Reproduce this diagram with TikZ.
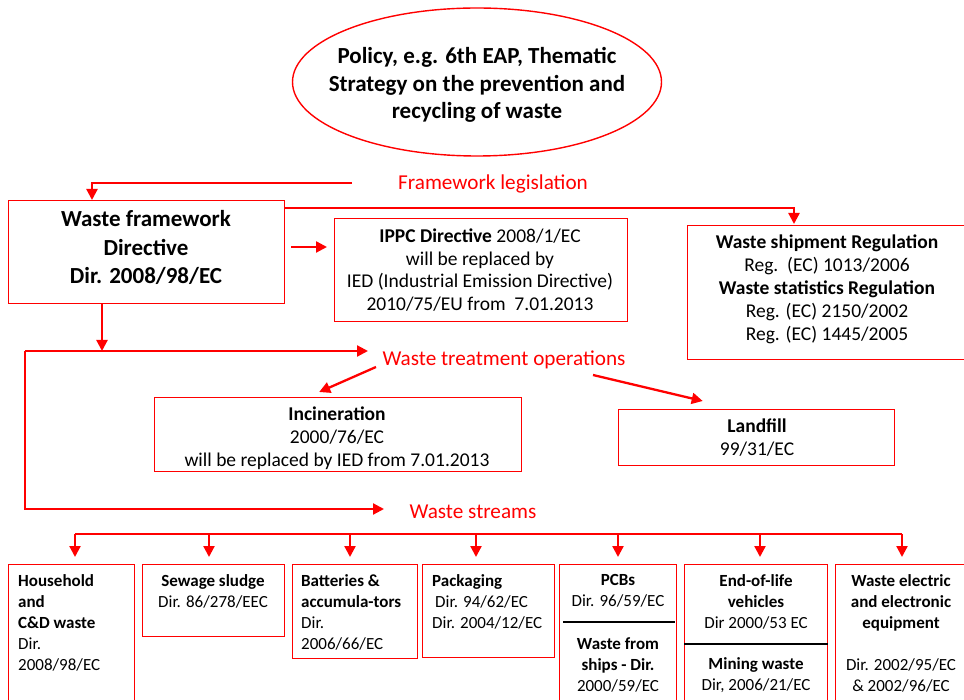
\documentclass[tikz,border=0pt]{standalone}
\usepackage{fontspec}
\setmainfont{Carlito}
\usetikzlibrary{arrows.meta,shapes.geometric,calc}

\tikzset{
  frame/.style={draw=red, line width=1.4pt, inner sep=0pt},
  link/.style={draw=red, line width=2.3pt, -{Triangle[length=11pt,width=11pt]}},
  bus/.style={draw=red, line width=2.3pt},
  txt/.style={inner sep=0pt, anchor=north, align=center, font=\fontsize{17}{21}\selectfont},
  bigtxt/.style={txt, font=\fontsize{19.5}{23}\selectfont},
  ltxt/.style={txt, anchor=north west, align=left},
  tag/.style={inner sep=0pt, text=red, font=\fontsize{21.2}{25}\selectfont},
  rule/.style={draw=black, line width=1.5pt},
}

\begin{document}
\begin{tikzpicture}[x=1pt,y=-1pt]
\useasboundingbox (0,0) rectangle (964,700);

% policy ellipse
\node[frame, ellipse, minimum width=369pt, minimum height=148pt] (policy) at (477,82) {};
\node[inner sep=0pt, align=center, font=\bfseries\fontsize{23}{27.5}\selectfont] (policytext) at (477,85)
  {Policy, e.g. 6th EAP, Thematic\\Strategy on the prevention and\\recycling of waste};

% framework legislation level
\node[tag] (fwl) at (493,184) {Framework legislation};
\coordinate (fwstart) at (352,183);

\node[frame, anchor=north west, minimum width=276pt, minimum height=103pt] (wfd) at (8,200) {};
\node[txt, font=\bfseries\fontsize{23}{28.8}\selectfont] (wfdtext) at (146,210)
  {Waste framework\\Directive\\Dir. 2008/98/EC};

\node[frame, anchor=north west, minimum width=293pt, minimum height=103pt] (ippc) at (334,218) {};
\node[bigtxt, font=\fontsize{19.5}{22.7}\selectfont] (ippctext) at (480,228.5)
  {\textbf{IPPC Directive} 2008/1/EC\\will be replaced by\\IED (Industrial Emission Directive)\\2010/75/EU from\ \ 7.01.2013};

\node[frame, anchor=north west, minimum width=290pt, minimum height=134pt] (ship) at (687,225) {};
\node[bigtxt] (shiptext) at (827,234.5)
  {\textbf{Waste shipment Regulation}\\Reg.\ \ (EC) 1013/2006\\\textbf{Waste statistics Regulation}\\Reg. (EC) 2150/2002\\Reg. (EC) 1445/2005};

\draw[link] (fwstart) -| ($(wfd.north west)+(84,0)$);
\draw[link] ($(wfd.north east)+(0,8)$) -| ($(ship.north west)+(107,-1)$);
\draw[link] ($(wfd.north east)+(6,47)$) -- ($(ippc.north west)+(-7,29)$);

% waste treatment operations level
\coordinate (fork) at (25,351);
\coordinate (optip) at (368,351);
\coordinate (sttip) at (384,509);
\coordinate (wfddrop) at ($(wfd.south west)+(94,0)$);
\draw[link] (wfddrop) -- (wfddrop |- fork);
\draw[link] (fork) -- (optip);
\draw[link] (fork) |- (sttip);

\node[tag] (ops) at (504,360) {Waste treatment operations};

\node[frame, anchor=north west, minimum width=367pt, minimum height=74pt] (incin) at (154,397) {};
\node[bigtxt] (incintext) at (337,406.5)
  {\textbf{Incineration}\\2000/76/EC\\will be replaced by IED from 7.01.2013};

\node[frame, anchor=north west, minimum width=276pt, minimum height=56pt] (landfill) at (618,409) {};
\node[bigtxt] (landtext) at (757,418.5)
  {\textbf{Landfill}\\99/31/EC};

\coordinate (opsL) at (376,367);
\coordinate (opsR) at (593,375);
\draw[link] (opsL) -- ($(incin.north)+(-19,-5)$);
\draw[link] (opsR) -- ($(landfill.north)+(-54,-8)$);

% waste streams level
\node[tag] (streams) at (473,512) {Waste streams};

\node[frame, anchor=north west, minimum width=126pt, minimum height=150pt] (hh) at (8,564) {};
\node[frame, anchor=north west, minimum width=142pt, minimum height=72pt] (sew) at (142,564) {};
\node[frame, anchor=north west, minimum width=125pt, minimum height=94pt] (bat) at (292,564) {};
\node[frame, anchor=north west, minimum width=132pt, minimum height=93pt] (pack) at (422,564) {};
\node[frame, anchor=north west, minimum width=117pt, minimum height=150pt] (pcb) at (559,564) {};
\node[frame, anchor=north west, minimum width=143pt, minimum height=150pt] (eol) at (684,564) {};
\node[frame, anchor=north west, minimum width=140pt, minimum height=150pt] (weee) at (835,564) {};

\node[ltxt] (hhtext) at (18,574)
  {\textbf{Household}\\\textbf{and}\\\textbf{C\&D waste}\\Dir.\\2008/98/EC};
\node[txt] (sewtext) at (213,574) {\textbf{Sewage sludge}\\Dir. 86/278/EEC};
\node[ltxt] (battext) at (301,574)
  {\textbf{Batteries \&}\\\textbf{accumula-tors}\\Dir.\\2006/66/EC};
\node[ltxt] (packtext) at (432,574)
  {\textbf{Packaging}\\\hspace*{3pt}Dir. 94/62/EC\\Dir. 2004/12/EC};
\node[txt] (pcbtext) at (618,574) {\textbf{PCBs}\\Dir. 96/59/EC};
\node[txt] (shipwtext) at (618,637)
  {\textbf{Waste from}\\\textbf{ships - Dir.}\\2000/59/EC};
\node[txt] (eoltext) at (756,574)
  {\textbf{End-of-life}\\\textbf{vehicles}\\Dir 2000/53 EC};
\node[txt] (minetext) at (756,657) {\textbf{Mining waste}\\Dir, 2006/21/EC};
\node[txt] (weeetext) at (901,574)
  {\textbf{Waste electric}\\\textbf{and electronic}\\\textbf{equipment}\\[21pt]Dir. 2002/95/EC\\\& 2002/96/EC};

\draw[rule] ($(pcb.north west)+(4,58)$) -- ($(pcb.north east)+(-2,58)$);
\draw[rule] ($(eol.north west)+(0,80)$) -- ($(eol.north east)+(0,80)$);

% distribution bus
\coordinate (b1) at (75,534);
\coordinate (b2) at (209,534);
\coordinate (b3) at (350,534);
\coordinate (b4) at (476,534);
\coordinate (b5) at (618,534);
\coordinate (b6) at (760,534);
\coordinate (b7) at (902,534);
\draw[bus] (b1) -- (b7);
\draw[link, shorten >=7pt] (b1) -- (b1 |- hh.north);
\draw[link, shorten >=7pt] (b2) -- (b2 |- sew.north);
\draw[link, shorten >=7pt] (b3) -- (b3 |- bat.north);
\draw[link, shorten >=7pt] (b4) -- (b4 |- pack.north);
\draw[link, shorten >=7pt] (b5) -- (b5 |- pcb.north);
\draw[link, shorten >=7pt] (b6) -- (b6 |- eol.north);
\draw[link, shorten >=7pt] (b7) -- (b7 |- weee.north);
\end{tikzpicture}
\end{document}
